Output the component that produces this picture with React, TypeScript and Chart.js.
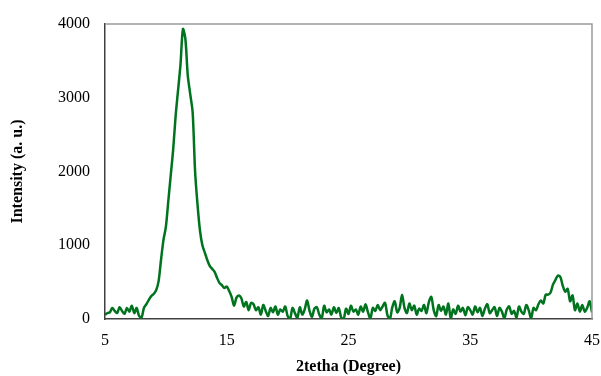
import React, { useEffect, useRef } from "react";
import { Chart, registerables } from "chart.js";

Chart.register(...registerables);

// 2θ grid (degrees): start and step of the scan
const X_START = 5;
const X_STEP = 0.2;

// Intensity (a. u.), one value per 0.2° from 5 to 45
const intensity: number[] = [
  60, 80, 90, 150, 110, 80, 160, 110, 70, 150,
  100, 180, 80, 150, 40, 20, 150, 200, 260, 310,
  340, 390, 510, 800, 1070, 1250, 1600, 1950, 2300, 2750,
  3100, 3450, 3930, 3800, 3300, 3050, 2800, 2000, 1550, 1200,
  1000, 900, 800, 720, 680, 640, 560, 490, 460, 420,
  440, 380, 300, 180, 290, 320, 280, 170, 230, 120,
  220, 200, 120, 160, 60, 190, 110, 40, 150, 90,
  170, 60, 130, 100, 170, 40, 0, 150, 80, 20,
  160, 60, 130, 250, 110, 30, 140, 160, 60, 10,
  180, 90, 130, 60, 160, 80, 150, 20, 0, 140,
  70, 180, 100, 130, 60, 170, 100, 200, 90, 10,
  150, 110, 190, 120, 170, 220, 50, 0, 160, 240,
  90, 150, 330, 150, 80, 210, 120, 180, 60, 140,
  110, 190, 80, 230, 300, 120, 40, 190, 110, 170,
  60, 210, 10, 130, 70, 180, 100, 150, 50, 160,
  120, 60, 170, 90, 150, 40, 140, 200, 80, 120,
  160, 40, 150, 100, 10, 130, 170, 70, 110, 20,
  170, 100, 70, 190, 120, 10, 150, 120, 200, 250,
  210, 330, 330, 360, 470, 530, 590, 570, 450, 370,
  410, 240, 320, 120, 210, 100, 190, 100, 150, 240,
  90,
];

const X_MIN = 5;
const X_MAX = 45;
const X_TICK_STEP = 10;
const Y_MIN = 0;
const Y_MAX = 4000;
const Y_TICK_STEP = 1000;

const X_TITLE = "2tetha (Degree)";
const Y_TITLE = "Intensity (a. u.)";

const FONT_FAMILY = "'Times New Roman', 'Liberation Serif', serif";

const frameTopRight = {
  id: "frameTopRight",
  afterDraw(chart: any) {
    const { ctx, chartArea } = chart;
    ctx.save();
    ctx.strokeStyle = "#9a9a9a";
    ctx.lineWidth = 1.5;
    ctx.beginPath();
    ctx.moveTo(chartArea.left, chartArea.top);
    ctx.lineTo(chartArea.right, chartArea.top);
    ctx.lineTo(chartArea.right, chartArea.bottom);
    ctx.stroke();
    ctx.restore();
  },
};

export default function App() {
  const ref = useRef<HTMLCanvasElement | null>(null);

  useEffect(() => {
    if (!ref.current) return;
    const points = intensity.map((y, i) => ({ x: X_START + i * X_STEP, y }));
    const chart = new Chart(ref.current, {
      type: "line",
      data: {
        datasets: [
          {
            data: points,
            borderColor: "#00731e",
            borderWidth: 2.5,
            pointRadius: 0,
            tension: 0.3,
            fill: false,
          },
        ],
      },
      options: {
        responsive: false,
        animation: false,
        layout: { padding: { left: 0, right: 9, top: 24, bottom: 0 } },
        plugins: { legend: { display: false }, tooltip: { enabled: false } },
        scales: {
          x: {
            type: "linear",
            min: X_MIN,
            max: X_MAX,
            afterFit: (s: any) => {
              s.height = 57;
              s.paddingLeft = 0;
              s.paddingRight = 0;
            },
            afterBuildTicks: (s: any) => {
              const t = [];
              for (let v = X_MIN; v <= X_MAX; v += X_TICK_STEP) t.push({ value: v });
              s.ticks = t;
            },
            grid: { display: false, drawTicks: false },
            border: { display: true, color: "#404040", width: 1.5 },
            ticks: {
              padding: 12,
              color: "#000",
              maxRotation: 0,
              callback: (v: any) => String(v),
              font: { family: FONT_FAMILY, size: 16 },
            },
            title: {
              display: true,
              text: X_TITLE,
              color: "#000",
              padding: { top: 0, bottom: 0 },
              font: { family: FONT_FAMILY, size: 16, weight: "bold" },
            },
          },
          y: {
            min: Y_MIN,
            max: Y_MAX,
            afterFit: (s: any) => {
              s.width = 105;
              s.paddingTop = 0;
              s.paddingBottom = 0;
            },
            grid: { display: false, drawTicks: false },
            border: { display: true, color: "#404040", width: 1.5 },
            ticks: {
              stepSize: Y_TICK_STEP,
              padding: 15,
              color: "#000",
              callback: (v: any) => String(v),
              font: { family: FONT_FAMILY, size: 16 },
            },
            title: {
              display: true,
              text: Y_TITLE,
              color: "#000",
              padding: { top: 8, bottom: 0 },
              font: { family: FONT_FAMILY, size: 16, weight: "bold" },
            },
          },
        },
      },
      plugins: [frameTopRight],
    });
    return () => chart.destroy();
  }, []);

  return (
    <div style={{ position: "fixed", left: 0, top: 0, width: 601, height: 376, background: "#fff" }}>
      <canvas ref={ref} width={601} height={376} style={{ width: 601, height: 376 }} />
    </div>
  );
}
